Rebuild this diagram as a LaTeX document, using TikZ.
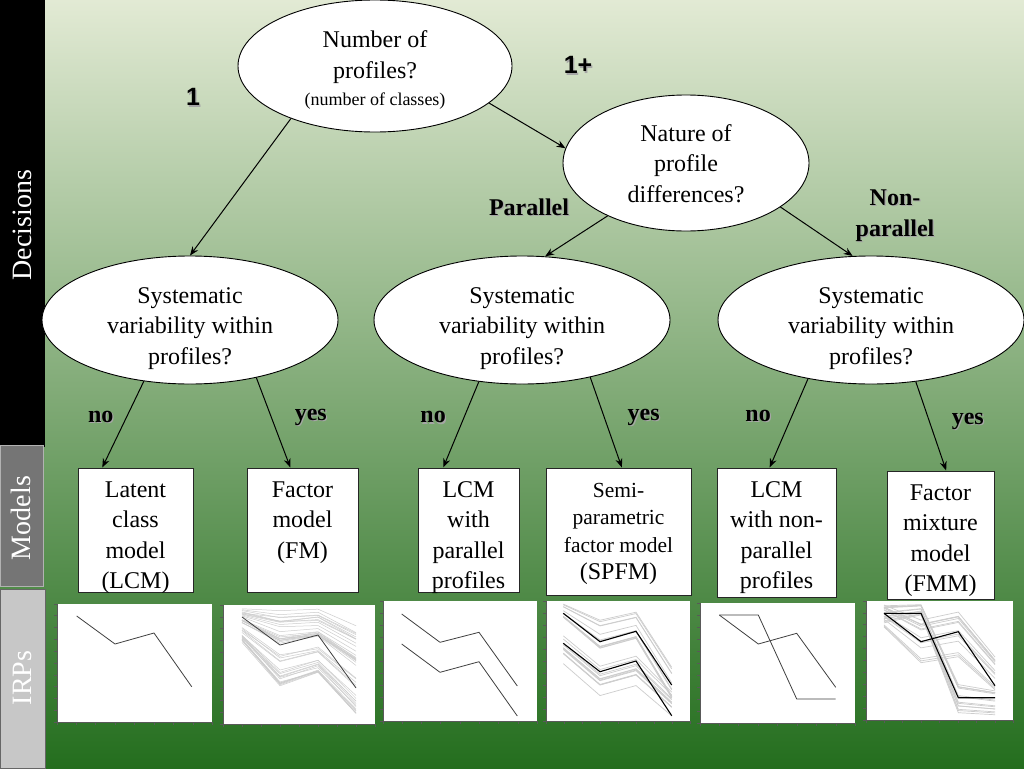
\documentclass[tikz,border=0pt]{standalone}
\usepackage{fontspec}
\setmainfont{Liberation Serif}
\newfontfamily\countfont{Liberation Sans}
\usetikzlibrary{shapes.geometric, arrows.meta, calc}

\definecolor{bgtop}{RGB}{226,234,212}
\definecolor{bgmid}{RGB}{150,190,110}
\definecolor{bgbot}{RGB}{36,110,30}
\definecolor{bundlegray}{RGB}{205,205,205}

\newcommand{\shadowed}[1]{\leavevmode\rlap{\kern1.3pt\raisebox{-1.3pt}{\textcolor{black!35}{#1}}}#1}
\newcommand{\modeltext}[3]{\parbox[c][#1][t]{#2}{\centering\rule{0pt}{29pt}#3}}
\newcommand{\decisiontext}[3]{\parbox[c][90pt][t]{#2}{\centering\rule{0pt}{#1}#3}}

\tikzstyle{decision} = [ellipse, draw=black, fill=white, line width=0.9pt, inner sep=0pt, font=\fontsize{24}{30.5}\selectfont]
\tikzstyle{model} = [rectangle, draw=black!85, fill=white, line width=1pt, inner sep=0pt, font=\fontsize{24}{30.5}\selectfont]
\tikzstyle{answer} = [align=center, font=\fontsize{24}{31}\selectfont\bfseries]
\tikzstyle{reply} = [answer, text height=1.5ex, text depth=.25ex, pos=0.4, yshift=-4pt]
\tikzstyle{count} = [font=\countfont\fontsize{25}{28}\selectfont\bfseries]
\tikzstyle{side} = [rotate=90, text=white, font=\fontsize{28}{30}\selectfont]
\tikzstyle{irp} = [rectangle, fill=white, inner sep=0pt]
\tikzstyle{axis} = [black!65, line width=0.5pt]
\tikzstyle{arrow} = [line width=1pt, ->, >={Stealth[length=9pt, width=7pt]}]
\tikzstyle{profile} = [black!75, line width=0.8pt]
\tikzstyle{bundle} = [bundlegray, line width=0.7pt]

\begin{document}
\begin{tikzpicture}[x=1pt, y=-1pt]
	\useasboundingbox (0,0) rectangle (1024,768);
	\shade[top color=bgtop, middle color=bgmid, bottom color=bgbot] (0,0) rectangle (1024,768);

	% side bar
	\fill[black] (0,0) rectangle (45,447);
	\draw[fill=black!54, draw=black!30] (0,445) rectangle (43,586);
	\draw[fill=black!22, draw=black!60] (0,589) rectangle (45,768);
	\node (decisions) [side] at (22,225) {Decisions};
	\node (models) [side] at (21,518) {Models};
	\node (irps) [side] at (22,678) {IRPs};

	% decisions
	\node (nprof) [decision, minimum width=274, minimum height=132] at (375,66) {\decisiontext{27pt}{190pt}{Number of\\profiles?\\[-4pt]{\fontsize{18}{24}\selectfont(number of classes)}}};
	\node (nature) [decision, minimum width=246, minimum height=136] at (686,163) {\decisiontext{23pt}{170pt}{Nature of\\profile\\differences?}};
	\node (sysl) [decision, minimum width=296, minimum height=128] at (190,320) {\decisiontext{28pt}{200pt}{Systematic\\variability within\\profiles?}};
	\node (sysm) [decision, minimum width=296, minimum height=128] at (522,320) {\decisiontext{28pt}{200pt}{Systematic\\variability within\\profiles?}};
	\node (sysr) [decision, minimum width=306, minimum height=128] at (871,320) {\decisiontext{28pt}{200pt}{Systematic\\variability within\\profiles?}};

	\draw [arrow] (nprof.212) -- (sysl.north);
	\draw [arrow] (nprof.-18) -- (nature.173);
	\draw [arrow] (nature.214) -- (sysm.70);
	\draw [arrow] (nature.-25) -- (sysr.106);

	\node (one) [count] at (193,98) {\shadowed{1}};
	\node (oneplus) [count] at (578,66) {\shadowed{1+}};
	\node (parallel) [answer] at (529,208) {\shadowed{Parallel}};
	\node (nonparallel) [answer] at (895,216) {\shadowed{Non-}\\\shadowed{parallel}};

	% models
	\node (lcm) [model] at (135.5,530) {\modeltext{124pt}{115pt}{Latent\\class\\model\\(LCM)}};
	\node (fm) [model] at (302.5,530) {\modeltext{124pt}{111pt}{Factor\\model\\(FM)}};
	\node (lcmp) [model] at (468.5,530) {\modeltext{124pt}{101pt}{LCM\\with\\parallel\\profiles}};
	\node (spfm) [model, font=\fontsize{21.5}{27.5}\selectfont] at (618.5,531.5) {\modeltext{127pt}{145pt}{Semi-\\parametric\\factor model\\{\fontsize{24}{27.5}\selectfont(SPFM)}}};
	\node (lcmnp) [model] at (776.5,532.5) {\modeltext{129pt}{119pt}{LCM\\with non-\\parallel\\profiles}};
	\node (fmm) [model] at (940.5,535) {\modeltext{128pt}{107pt}{Factor\\mixture\\model\\(FMM)}};

	\draw [arrow] (sysl.-127) -- node[reply, left=10pt] {\shadowed{no}} (lcm.118);
	\draw [arrow] (sysl.-41) -- node[reply, right=21pt] {\shadowed{yes}} (fm.101);
	\draw [arrow] (sysm.-125) -- node[reply, left=15pt] {\shadowed{no}} (lcmp.112);
	\draw [arrow] (sysm.-40) -- node[reply, right=21pt] {\shadowed{yes}} (spfm.87);
	\draw [arrow] (sysr.-137) -- node[reply, left=18pt] {\shadowed{no}} (lcmnp.96);
	\draw [arrow] (sysr.-54) -- node[reply, right=20pt] {\shadowed{yes}} (fmm.85);

	% item response profiles
	\node (irp1) [irp, minimum width=155, minimum height=118] at (134.5,663) {};
	\node (irp2) [irp, minimum width=152, minimum height=119] at (299,664.5) {};
	\node (irp3) [irp, minimum width=154, minimum height=120] at (460,661) {};
	\node (irp4) [irp, minimum width=144, minimum height=120] at (618,661) {};
	\node (irp5) [irp, minimum width=155, minimum height=120] at (777.5,663) {};
	\node (irp6) [irp, minimum width=147, minimum height=119] at (939.5,660.5) {};

	\foreach \p in {irp1,irp2,irp3,irp4,irp5,irp6}{
		\draw[axis] (\p.north west) -- (\p.south west) -- (\p.south east);
		\foreach \i in {0,...,10}
			\draw[axis] ($(\p.south west)!{\i/10}!(\p.north west)$) -- ++(-2.5,0);
		\foreach \i in {0,...,8}
			\draw[axis] ($(\p.south west)!{\i/8}!(\p.south east)$) -- ++(0,2.5);
	}

	\pgfmathsetseed{42}
	\foreach \k in {1,...,40}{
		\pgfmathsetmacro{\u}{rnd}
		\pgfmathsetmacro{\ya}{607+33*\u+3*rnd}
		\pgfmathsetmacro{\yb}{608+77*\u+3*rnd}
		\pgfmathsetmacro{\yc}{607+65*\u+3*rnd}
		\pgfmathsetmacro{\yd}{623+90*\u+3*rnd}
		\draw[bundle, line width=0.5pt] (242,\ya) -- (280,\yb) -- (318,\yc) -- (356,\yd);
	}
	\foreach \k in {1,...,12}{
		\pgfmathsetmacro{\u}{rnd}
		\pgfmathsetmacro{\v}{rnd}
		\draw[bundle] (563.3,604+14*\u) -- (600,620+30*\u) -- (636,612+28*\u) -- (671.7,667+33*\u);
		\draw[bundle] (563.3,630+35*\v) -- (600,660+37*\v) -- (636,650+37*\v) -- (671.7,687+30*\v);
	}
	\foreach \k in {1,...,14}{
		\pgfmathsetmacro{\u}{rnd}
		\pgfmathsetmacro{\v}{rnd}
		\draw[bundle] (884,603+20*\u) -- (921,603+12*\u) -- (958.3,680+33*\u) -- (995,687+28*\u);
		\draw[bundle] (884,605+22*\v) -- (921,620+43*\v) -- (958.3,612+45*\v) -- (995,657+33*\v);
	}

	\draw[profile] (76.7,616) -- (115,644) -- (154,633) -- (191.7,686.7);
	\draw[profile] (242,617) -- (280,645) -- (318,635) -- (356,688);
	\draw[profile] (401.7,614) -- (440,642.3) -- (479,632.3) -- (517.3,686);
	\draw[profile] (401.7,644) -- (440,672.3) -- (479,661.7) -- (517.3,716);
	\draw[profile, black, line width=1.1pt] (563.3,613.3) -- (600,641.7) -- (636,631.3) -- (671.7,685);
	\draw[profile, black, line width=1.1pt] (563.3,643.3) -- (600,671.7) -- (636,661) -- (671.7,715.7);
	\draw[profile] (719.3,615) -- (758.3,615) -- (796.7,699) -- (835.7,699);
	\draw[profile] (719.3,615) -- (758.3,644) -- (796.7,633.3) -- (835.7,687.3);
	\draw[profile, black, line width=1.1pt] (884,613.3) -- (921,613.3) -- (958.3,697.7) -- (995,697.7);
	\draw[profile, black, line width=1.1pt] (884,613.3) -- (921,641.7) -- (958.3,631.7) -- (995,685.7);
\end{tikzpicture}
\end{document}
